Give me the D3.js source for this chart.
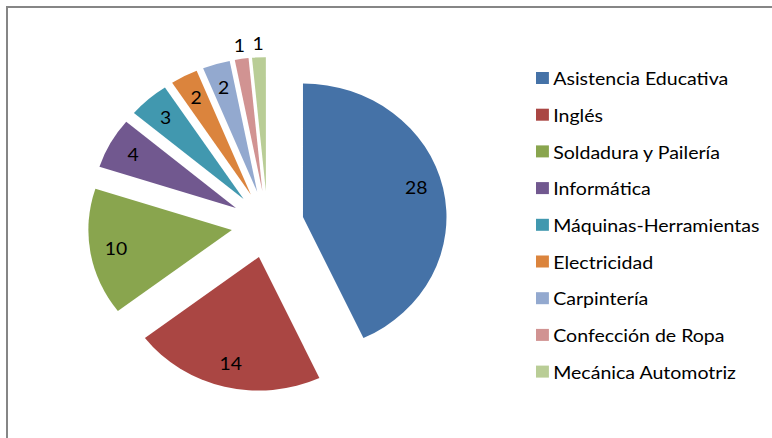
<!DOCTYPE html>
<html>
<head>
<meta charset="utf-8">
<script src="https://cdn.jsdelivr.net/npm/d3@7/dist/d3.min.js"></script>
<style>
  html, body { margin: 0; padding: 0; background: #fff; }
  svg { display: block; }
</style>
</head>
<body>
<svg id="chart" width="772" height="438"></svg>
<script>
const categories = ["Asistencia Educativa", "Inglés", "Soldadura y Pailería", "Informática",
  "Máquinas-Herramientas", "Electricidad", "Carpintería", "Confección de Ropa", "Mecánica Automotriz"];
const values = [28, 14, 10, 4, 3, 2, 2, 1, 1];
const colors = ["#4572A7", "#AA4643", "#89A54E", "#71588F", "#4198AF", "#DB843D", "#93A9CF", "#D19392", "#B9CD96"];

const W = 772, H = 438;
const svg = d3.select("#chart");

// chart frame (extends beyond the visible area on right/bottom)
svg.append("rect")
  .attr("x", 7).attr("y", 7).attr("width", 820).attr("height", 500)
  .attr("fill", "none").attr("stroke", "#868686").attr("stroke-width", 2);

const sx = 1.075;               // horizontal stretch seen in the reference
const root = svg.append("g").attr("transform", `scale(${sx},1)`);

const cx = 267.6 / sx, cy = 224.3;
const R = 133.5, explode = 33.7;
const fontFam = "Lato, 'Open Sans', 'Liberation Sans', sans-serif";

const pie = d3.pie().sort(null).value(d => d);
const arcs = pie(values);
const arc = d3.arc().innerRadius(0).outerRadius(R);
const total = d3.sum(values);

const pieG = root.append("g").attr("transform", `translate(${cx},${cy})`);

const sl = pieG.selectAll("g.slice").data(arcs).join("g")
  .attr("class", "slice")
  .attr("transform", d => {
    const m = (d.startAngle + d.endAngle) / 2;
    return `translate(${explode * Math.sin(m)},${-explode * Math.cos(m)})`;
  });

sl.append("path")
  .attr("d", arc)
  .attr("fill", (d, i) => colors[i]);

sl.append("text")
  .attr("transform", d => {
    const m = (d.startAngle + d.endAngle) / 2;
    const outside = d.value / total < 0.02;
    const r = outside ? R + 14 : R * 0.82;
    const a = d.index === 0 ? m - 0.06 : m;
    return `translate(${r * Math.sin(a)},${-r * Math.cos(a)})`;
  })
  .attr("text-anchor", "middle")
  .attr("dominant-baseline", "central")
  .attr("font-family", fontFam)
  .attr("font-size", 18)
  .attr("fill", "#000")
  .text(d => d.value);

// legend
const legX = 536 / sx, legY0 = 78, legStep = 36.7;
const leg = root.append("g");
const items = leg.selectAll("g").data(categories).join("g")
  .attr("transform", (d, i) => `translate(${legX},${legY0 + i * legStep})`);
items.append("rect")
  .attr("x", 0).attr("y", -6).attr("width", 12).attr("height", 12)
  .attr("fill", (d, i) => colors[i]);
items.append("text")
  .attr("x", 16).attr("y", 0)
  .attr("dominant-baseline", "central")
  .attr("font-family", fontFam)
  .attr("font-size", 18.2)
  .attr("fill", "#000")
  .text(d => d);
</script>
</body>
</html>
